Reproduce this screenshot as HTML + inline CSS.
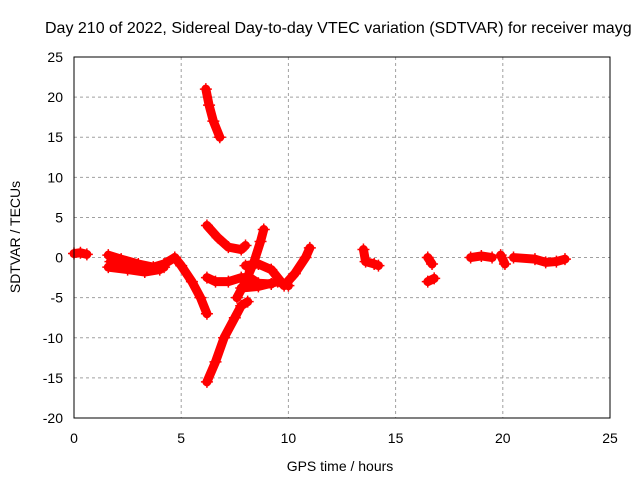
<!DOCTYPE html>
<html><head><meta charset="utf-8"><style>
body{margin:0;background:#fff;}
svg{display:block;font-family:"Liberation Sans",sans-serif;}
</style></head><body>
<svg id="chart" width="640" height="480" viewBox="0 0 640 480" xmlns="http://www.w3.org/2000/svg">
<rect width="640" height="480" fill="#fff"/>
<text x="45" y="33" font-size="16" fill="#000">Day 210 of 2022, Sidereal Day-to-day VTEC variation (SDTVAR) for receiver mayg</text>
<g id="grid"></g>
<g id="marks"></g>
<rect x="74" y="57" width="536" height="361" fill="none" stroke="#000" stroke-width="1"/>
<g id="ticks"></g>
<text x="340" y="471" font-size="14" text-anchor="middle">GPS time / hours</text>
<text transform="translate(20,237) rotate(-90)" font-size="14" text-anchor="middle">SDTVAR / TECUs</text>
</svg>
<script>
const xTicks=[0,5,10,15,20,25];
const yTicks=[25,20,15,10,5,0,-5,-10,-15,-20];
const track1=[[0.0,0.5],[0.3,0.6],[0.6,0.4]];
const track2=[[1.6,0.3],[2.2,-0.2],[3.0,-0.8],[3.7,-1.2],[4.2,-0.8],[4.7,0.0]];
const track3=[[1.6,-1.2],[2.5,-1.5],[3.3,-1.8],[4.0,-1.5]];
const track3b=[[1.7,-0.5],[2.5,-0.8],[3.3,-1.3],[4.2,-1.2]];
const track4=[[4.7,0.0],[5.0,-1.0],[5.5,-3.0],[5.9,-5.0],[6.2,-7.0]];
const track5=[[6.15,21],[6.3,19],[6.5,17],[6.8,15]];
const track6=[[6.2,4],[6.7,2.5],[7.2,1.3],[7.8,1.0],[8.0,1.5]];
const track7=[[6.2,-2.5],[6.6,-3],[7.2,-3],[7.8,-2.5],[8.2,-2.5],[8.6,-3.2],[9.2,-3.3]];
const track8=[[7.6,-5],[8.0,-3],[8.4,-0.5],[8.7,2],[8.85,3.5]];
const track9=[[6.2,-15.5],[6.6,-13],[7.0,-10],[7.5,-7.5],[7.8,-6],[8.1,-5.5]];
const track10=[[8.0,-1],[8.6,-0.8],[9.2,-1.5],[9.8,-3.5],[10.3,-2],[10.8,0],[11.0,1.2]];
const track11=[[7.8,-3.8],[8.6,-3.6],[9.5,-3],[10.0,-3.5]];
const track12=[[13.5,1],[13.6,-0.5],[14.0,-0.8],[14.2,-1]];
const track13=[[16.5,0],[16.7,-0.8]];
const track14=[[16.5,-3],[16.8,-2.6]];
const track15=[[18.5,0],[19.0,0.2],[19.5,0]];
const track16=[[19.9,0.3],[20.1,-0.8]];
const track17=[[20.5,0],[21.5,-0.2],[22.0,-0.6],[22.5,-0.5],[22.9,-0.2]];
const tracks=[track1,track2,track3,track3b,track4,track5,track6,track7,track8,track9,track10,track11,track12,track13,track14,track15,track16,track17];
const X0=74,X1=610,Y0=418,Y1=57;
function sx(v){return X0+(v-0)/(25-0)*(X1-X0);}
function sy(v){return Y0-(v+20)/(25+20)*(Y0-Y1);}
const NS="http://www.w3.org/2000/svg";
const grid=document.getElementById('grid'),ticks=document.getElementById('ticks'),marks=document.getElementById('marks');
function mk(t,a,p){const e=document.createElementNS(NS,t);for(const k in a)e.setAttribute(k,a[k]);p.appendChild(e);return e;}
xTicks.forEach(v=>{const x=sx(v);
 if(v>0&&v<25){const g=mk('line',{x1:x,x2:x,y1:Y1,y2:Y0,stroke:'#a0a0a0','stroke-dasharray':'3,3'},grid);
 
 }
 const t=mk('text',{x:x,y:443,'font-size':14,'text-anchor':'middle'},ticks);t.textContent=v;
 
 
});
yTicks.forEach(v=>{const y=sy(v);
 if(v<25&&v>-20){const g=mk('line',{x1:X0,x2:X1,y1:y,y2:y,stroke:'#a0a0a0','stroke-dasharray':'3,3'},grid);
 
 }
 const t=mk('text',{x:63,y:y+5,'font-size':14,'text-anchor':'end'},ticks);t.textContent=v;
 
 
});
tracks.forEach(tr=>{
 const pts=tr.map(p=>sx(p[0])+','+sy(p[1])).join(' ');
 const pl=mk('polyline',{points:pts,fill:'none',stroke:'#ff0000','stroke-width':9,'stroke-linecap':'round','stroke-linejoin':'round'},marks);
 
 
 tr.forEach(p=>{const x=sx(p[0]),y=sy(p[1]);
  const m=mk('path',{d:`M${x-6},${y}h12M${x},${y-6}v12`,stroke:'#ff0000','stroke-width':1.5},marks);
  
  
 });
});
</script>
</body></html>
